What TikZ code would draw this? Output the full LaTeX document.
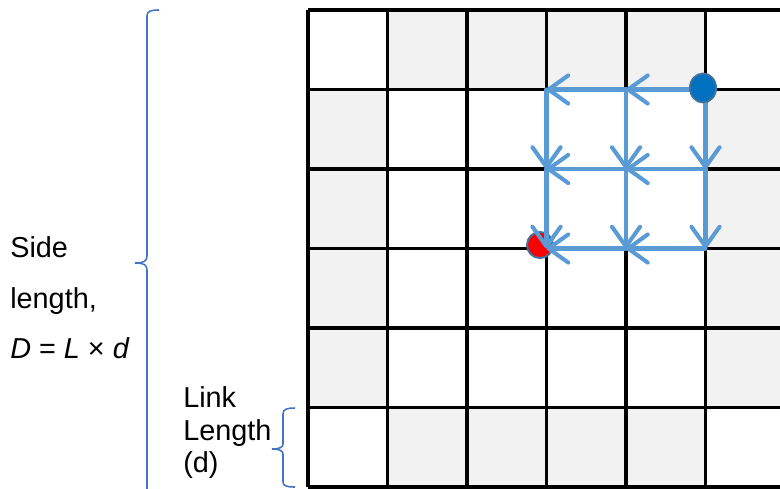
\documentclass[tikz,border=0pt]{standalone}
\usepackage{fontspec}
\setmainfont{Liberation Sans}
\usetikzlibrary{arrows.meta,shapes.geometric}
\definecolor{linkblue}{HTML}{5B9BD5}
\definecolor{srcblue}{HTML}{0070C0}
\definecolor{dotedge}{HTML}{41719C}
\definecolor{cellgray}{HTML}{F2F2F2}
\definecolor{bracecol}{HTML}{4472C4}
\tikzset{
  hop/.style={-{Straight Barb[length=14pt,width=20pt,round]},line width=2.9pt,linkblue,line cap=round},
  gridline/.style={line width=2.2pt,black},
  dot/.style={ellipse,draw=dotedge,line width=1.4pt,inner sep=0pt},
  brc/.style={bracecol,line width=1.1pt},
  lbl/.style={font=\fontsize{20.5}{24}\selectfont,anchor=base west,inner sep=0pt}
}

\begin{document}
\begin{tikzpicture}[x=0.025cm,y=-0.025cm]
\useasboundingbox (0,0) rectangle (780,488);
\clip (0,0) rectangle (780,488);
\def\gx{308}\def\gy{10}\def\cs{79.5}
% edge cells of the lattice
\foreach \i in {1,...,4}{
  \fill[cellgray] ({\gx+\i*\cs},\gy) rectangle ++(\cs,\cs);
  \fill[cellgray] ({\gx+\i*\cs},{\gy+5*\cs}) rectangle ++(\cs,\cs);
  \fill[cellgray] (\gx,{\gy+\i*\cs}) rectangle ++(\cs,\cs);
  \fill[cellgray] ({\gx+5*\cs},{\gy+\i*\cs}) rectangle ++(\cs,\cs);
}
\foreach \i in {0,...,6}{
  \draw[gridline] ({\gx+\i*\cs},\gy) -- ++(0,{6*\cs});
  \draw[gridline] (\gx,{\gy+\i*\cs}) -- ++({6*\cs},0);
}
\foreach \c in {3,4,5}{
  \foreach \r in {1,2,3}{
    \coordinate (n\c\r) at ({\gx+\c*\cs},{\gy+\r*\cs});
  }
}
\node[dot,fill=red,minimum width=18.5pt,minimum height=18.5pt] (dst) at (540,245) {};
\foreach \a/\b in {51/41,41/31,51/52,41/42,31/32,52/42,42/32,52/53,42/43,32/33,53/43,43/33}
  \draw[hop] (n\a) -- (n\b);
\node[dot,fill=srcblue,minimum width=18.5pt,minimum height=20.6pt] (src) at (703,88) {};

% braces
\draw[brc] (159,10) .. controls (151,10) and (147,11) .. (147,16) -- (147,256)
  .. controls (147,261) and (144,263) .. (135,263)
  .. controls (144,263) and (147,265) .. (147,270) -- (147,500);
\draw[brc] (295,408) .. controls (287,408) and (283,409) .. (283,414) -- (283,444)
  .. controls (283,447) and (280,449) .. (272,449)
  .. controls (280,449) and (283,451) .. (283,454) -- (283,482)
  .. controls (283,486) and (287,487) .. (295,487);

\node[lbl] (side) at (10,257) {Side};
\node[lbl] (sidelen) at (10,308) {length,};
\node[lbl] (dform) at (10,358) {\textit{D} = \textit{L} × \textit{d}};
\node[lbl] (link) at (183,407) {Link};
\node[lbl] (linklen) at (183,440) {Length};
\node[lbl] (linkd) at (183,472) {(d)};
\end{tikzpicture}
\end{document}
